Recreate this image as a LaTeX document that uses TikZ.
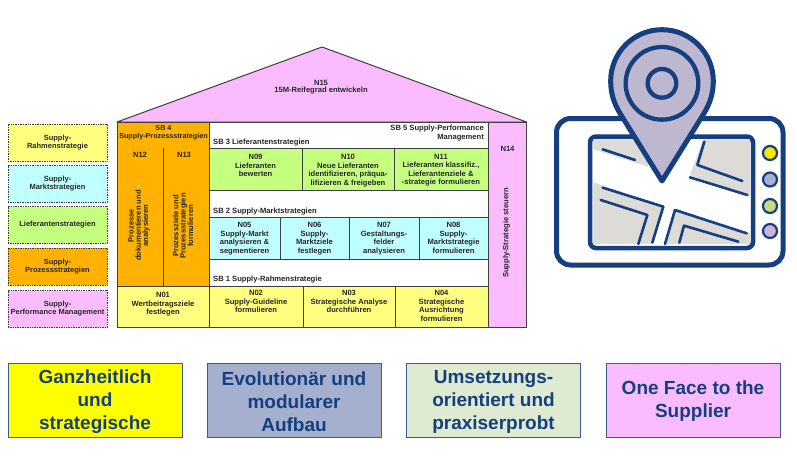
\documentclass[tikz,border=0pt]{standalone}
\usepackage{fontspec}
\setmainfont{Liberation Sans}
\usetikzlibrary{positioning,shapes.geometric}
\definecolor{sbyellow}{HTML}{FFFF7F}
\definecolor{sbcyan}{HTML}{C0FFFF}
\definecolor{sbgreen}{HTML}{C4FF80}
\definecolor{sborange}{HTML}{FFB200}
\definecolor{sbpink}{HTML}{FBBCFF}
\definecolor{edgegrey}{HTML}{3F3F3F}
\definecolor{navy}{HTML}{153F7F}
\definecolor{mapgrey}{HTML}{DDDBD7}
\definecolor{pinfill}{HTML}{BDB7D0}
\definecolor{boxyellow}{HTML}{FFFF00}
\definecolor{boxblue}{HTML}{A5B0CF}
\definecolor{boxgreen}{HTML}{DEEBD0}
\definecolor{knobyellow}{HTML}{FFE800}
\definecolor{knobgreen}{HTML}{C9DA7F}
\definecolor{knobviolet}{HTML}{CDB4D8}
\tikzset{
    cellbox/.style={draw=edgegrey,line width=1pt,inner sep=0pt,outer sep=0pt},
    celltext/.style={inner sep=0pt,align=center,text=black!85,
        font=\fontsize{7.6}{8.5}\selectfont\bfseries},
    sidebox/.style={draw=edgegrey,line width=0.7pt,densely dotted,inner sep=0pt,
        minimum width=99pt,minimum height=37pt,text=black!85,align=center,
        font=\fontsize{7.5}{8}\selectfont\bfseries},
    valuebox/.style={draw=navy!85,line width=1pt,inner sep=0pt,minimum width=174pt,
        minimum height=74pt},
    valuetext/.style={inner sep=0pt,text=navy,align=center,
        font=\fontsize{19}{23}\selectfont\bfseries},
    mapline/.style={draw=navy,line width=2.6pt,line cap=round,line join=round},
    knob/.style={circle,draw=navy,line width=2.2pt,minimum size=14pt,inner sep=0pt}
}
\begin{document}
\begin{tikzpicture}[x=1pt,y=-1pt]
    \useasboundingbox (0,0) rectangle (797,456);
    % legend
    \foreach \nm/\yc/\col/\txt in {
        lgA/142.5/sbyellow/{Supply-\\Rahmenstrategie},
        lgB/184/sbcyan/{Supply-\\Marktstrategien},
        lgC/225/sbgreen/{Lieferantenstrategien},
        lgD/266.5/sborange/{Supply-\\Prozessstrategien},
        lgE/309/sbpink/{Supply-\\Performance Management}}
        \node[sidebox,fill=\col] (\nm) at (57.5,\yc) {\txt};
    % house
    \coordinate (roofL) at (117,122);
    \coordinate (roofT) at (322,47);
    \coordinate (roofR) at (526.5,122);
    \draw[edgegrey,line width=1pt,fill=sbpink,line join=round] (roofL) -- (roofT) -- (roofR) -- cycle;
    \node[celltext] (n15) at (321,87) {N15\\[-1.5pt]15M-Reifegrad entwickeln};
    \node[cellbox,fill=white,minimum width=279pt,minimum height=164pt] (core) at (348.5,204) {};
    \node[cellbox,fill=sbpink,minimum width=38.5pt,minimum height=205pt] (n14) at (507.5,224.5) {};
    \node[celltext] (n14a) at (507.5,149) {N14};
    \node[celltext,rotate=90] (n14b) at (506.5,233) {Supply-Strategie steuern};
    % SB 4
    \node[cellbox,fill=sborange,minimum width=92.5pt,minimum height=164pt] (sb4) at (163.5,204) {};
    \node[celltext,below=3pt of sb4.north,font=\fontsize{7.2}{8.2}\selectfont\bfseries] (sb4a) {SB 4\\Supply-Prozessstrategien};
    \coordinate (splitT) at (163.5,148);
    \coordinate (splitB) at (163.5,286);
    \draw[edgegrey,line width=0.8pt] (splitT) -- (splitB);
    \node[celltext] (n12a) at (140,155) {N12};
    \node[celltext] (n13a) at (184,155) {N13};
    \node[celltext,rotate=90] (n12b) at (139,225.5) {Prozesse\\[-1.2pt]dokumentieren und\\[-1.2pt]analysieren};
    \node[celltext,rotate=90] (n13b) at (183,226) {Prozessziele und\\[-1.2pt]Prozessstrategien\\[-1.2pt]formulieren};
    % sub-building headers
    \node[celltext,anchor=west] (sb3) at (213,142.5) {SB 3 Lieferantenstrategien};
    \node[celltext,anchor=west] (sb2) at (213,212) {SB 2 Supply-Marktstrategien};
    \node[celltext,anchor=west] (sb1) at (213,280) {SB 1 Supply-Rahmenstrategie};
    \node[celltext,align=right,anchor=north east] (sb5) at (484,125) {SB 5 Supply-Performance\\Management};
    % rows of cells
    \foreach \nm/\xa/\xb/\txt in {
        n09/209/302/{N09\\Lieferanten\\bewerten},
        n10/302/394/{N10\\Neue Lieferanten\\identifizieren, präqua-\\lifizieren \& freigeben},
        n11/394/488/{N11\\Lieferanten klassifiz.,\\Lieferantenziele \&\\-strategie formulieren}}{
        \node[cellbox,fill=sbgreen,minimum width={(\xb-\xa)*1pt},minimum height=42pt] (\nm) at ({(\xa+\xb)/2},169) {};
        \node[celltext,below=6pt of \nm.north] {\txt};
    }
    \foreach \nm/\xa/\xb/\txt in {
        n05/209/280/{N05\\Supply-Markt\\analysieren \&\\segmentieren},
        n06/280/349/{N06\\Supply-\\Marktziele\\festlegen},
        n07/349/419/{N07\\Gestaltungs-\\felder\\analysieren},
        n08/419/488/{N08\\Supply-\\Marktstrategie\\formulieren}}{
        \node[cellbox,fill=sbcyan,minimum width={(\xb-\xa)*1pt},minimum height=42pt] (\nm) at ({(\xa+\xb)/2},238) {};
        \node[celltext,below=5pt of \nm.north] {\txt};
    }
    \foreach \nm/\xa/\xb/\off/\txt in {
        n01/117/209/6/{N01\\Wertbeitragsziele\\festlegen},
        n02/209/303/4/{N02\\Supply-Guideline\\formulieren},
        n03/303/395/4/{N03\\Strategische Analyse\\durchführen},
        n04/395/488/4/{N04\\Strategische\\Ausrichtung\\formulieren}}{
        \node[cellbox,fill=sbyellow,minimum width={(\xb-\xa)*1pt},minimum height=41pt] (\nm) at ({(\xa+\xb)/2},306.5) {};
        \node[celltext,below=\off pt of \nm.north] {\txt};
    }
    % map icon
    \draw[navy,line width=5pt,fill=white,rounded corners=14pt] (556.5,118.5) rectangle (783,265);
    \draw[navy,line width=4.5pt,fill=white,rounded corners=6pt] (590,136.5) rectangle (753,248);
    \begin{scope}[shift={(540,20)},x=0.3333pt,y=-0.3333pt]
        \fill[mapgrey] (160,358) -- (330,358) -- (325,440) -- (160,388) -- cycle;
        \fill[mapgrey] (490,358) -- (630,358) -- (630,530) -- (450,465) -- cycle;
        \fill[mapgrey] (160,487) -- (370,560) -- (335,672) -- (160,672) -- cycle;
        \fill[mapgrey] (405,570) -- (630,640) -- (630,672) -- (375,672) -- cycle;
        \draw[mapline] (188,388) -- (285,420);
        \draw[mapline] (493,365) -- (472,435) -- (607,483);
        \draw[mapline] (450,472) -- (622,525);
        \draw[mapline] (188,503) -- (370,560) -- (337,668);
        \draw[mapline] (182,540) -- (322,585) -- (295,672);
        \draw[mapline] (620,640) -- (405,570) -- (375,672);
        \draw[mapline] (595,665) -- (432,617) -- (418,668);
        \draw[navy,line width=5pt,fill=pinfill,line join=round] (366,483)
            -- (240,280) .. controls (222,250) and (212,220) .. (212,183)
            arc (180:360:154)
            .. controls (520,220) and (510,250) .. (492,280) -- cycle;
        \draw[navy,line width=4.3pt] (366,190) circle (109);
        \draw[navy,line width=4.3pt] (366,190) circle (43);
    \end{scope}
    \node[knob,fill=knobyellow] (knobA) at (770,153) {};
    \node[knob,fill=boxblue] (knobB) at (770,179.5) {};
    \node[knob,fill=knobgreen] (knobC) at (770,206) {};
    \node[knob,fill=knobviolet] (knobD) at (770,231) {};
    % value boxes
    \node[valuebox,fill=boxyellow] (valA) at (95,400) {};
    \node[valuebox,fill=boxblue] (valB) at (294,400) {};
    \node[valuebox,fill=boxgreen] (valC) at (493.5,400) {};
    \node[valuebox,fill=sbpink] (valD) at (693,400) {};
    \node[valuetext] (valAtxt) at (95,402) {Ganzheitlich\\und\\strategische};
    \node[valuetext] (valBtxt) at (294,402) {Evolutionär und\\modularer\\Aufbau};
    \node[valuetext] (valCtxt) at (493.5,402) {Umsetzungs-\\orientiert und\\praxiserprobt};
    \node[valuetext] (valDtxt) at (693,401) {One Face to the\\Supplier};
\end{tikzpicture}
\end{document}
